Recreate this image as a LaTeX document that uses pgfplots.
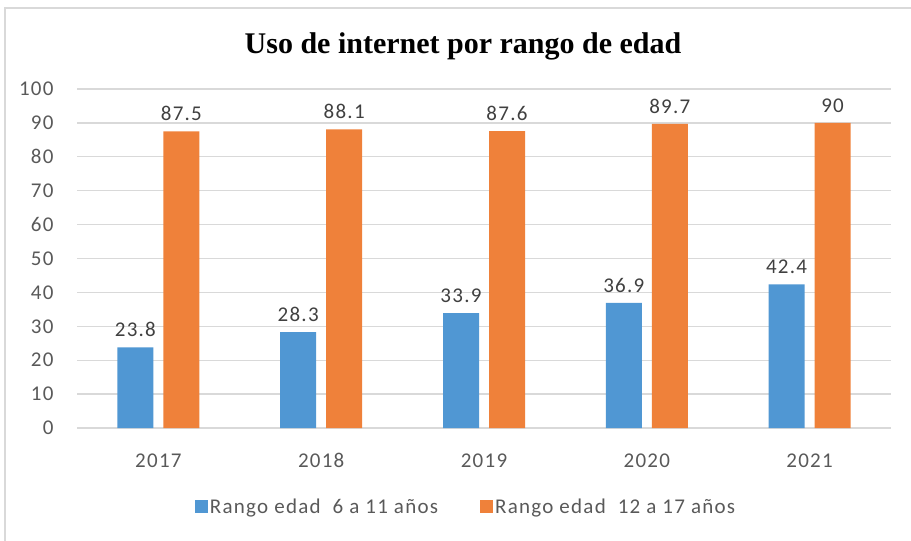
\documentclass[border=0pt]{standalone}
\usepackage{pgfplots}
\pgfplotsset{compat=1.18}
\usepackage{fontspec}
\setmainfont{Carlito}[LetterSpace=6]
\newfontfamily\titlefont{Liberation Serif}
\definecolor{cblue}{HTML}{5097D3}
\definecolor{corange}{HTML}{EF813A}
\definecolor{ctext}{HTML}{595959}
\definecolor{clabel}{HTML}{404040}
\definecolor{cgrid}{HTML}{D9D9D9}
\begin{document}
\begin{tikzpicture}[x=1pt,y=1pt]
\useasboundingbox (0,0) rectangle (911,-541);
\draw[cgrid, line width=1.2pt] (5,-545) -- (5,-8) -- (915,-8);
\node[anchor=base, font=\titlefont\bfseries\fontsize{30}{36}\selectfont] at (463,-53) {Uso de internet por rango de edad};
\begin{axis}[
  at={(77pt,-428pt)}, anchor=south west,
  scale only axis, width=814pt, height=339pt,
  xmin=-0.5, xmax=4.5, ymin=0, ymax=100,
  ybar=10pt, bar width=36pt,
  axis line style={draw=none},
  tick style={draw=none},
  ymajorgrids, major grid style={cgrid, line width=1.3pt},
  ytick={0,10,...,100},
  xtick={0,1,2,3,4},
  xticklabels={2017,2018,2019,2020,2021},
  /pgf/number format/assume math mode=true,
  ticklabel style={font=\fontsize{21}{25}\selectfont, text=ctext},
  yticklabel style={xshift=-20pt},
  xticklabel style={yshift=-18pt, text height=14pt, text depth=0pt},
  nodes near coords,
  every node near coord/.append style={font=\fontsize{21}{25}\selectfont, text=clabel, yshift=7pt},
  legend style={at={(0.478,-0.233)}, anchor=center, draw=none, fill=none,
    font=\fontsize{21}{25}\selectfont, text=ctext, legend columns=2,
    /tikz/every even column/.append style={column sep=40pt}},
  legend image code/.code={\path[#1,draw=none] (0pt,-6.5pt) rectangle (13pt,6.5pt);},
]
\addplot[fill=cblue, draw=none] coordinates {(0,23.8) (1,28.3) (2,33.9) (3,36.9) (4,42.4)};
\addplot[fill=corange, draw=none] coordinates {(0,87.5) (1,88.1) (2,87.6) (3,89.7) (4,90)};
\legend{Rango edad\ \ 6 a 11 años, Rango edad\ \ 12 a 17 años}
\end{axis}
\end{tikzpicture}
\end{document}
